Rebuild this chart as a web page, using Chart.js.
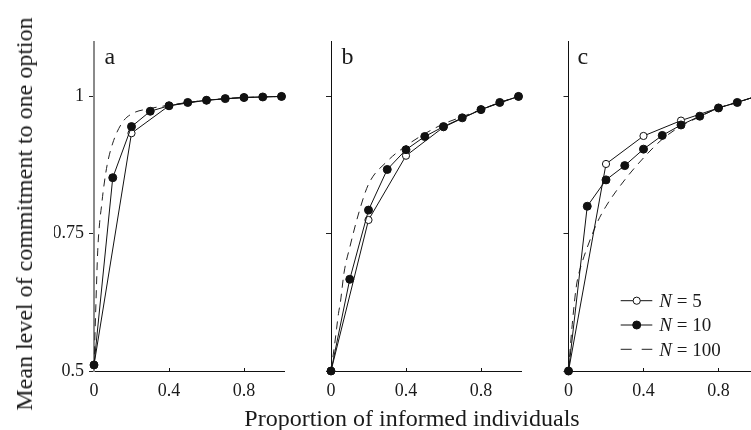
<!DOCTYPE html>
<html>
<head>
<meta charset="utf-8">
<script src="https://cdn.jsdelivr.net/npm/chart.js@4.4.1/dist/chart.umd.min.js"></script>
<style>
  html, body { margin: 0; padding: 0; background: #ffffff; }
  #wrap { position: relative; width: 751px; height: 430px; overflow: hidden; background: #ffffff; }
  #wrap canvas { position: absolute; left: 0; top: 0; }
  .title { position: absolute; font-family: 'Liberation Serif', 'DejaVu Serif', serif; font-size: 24px; line-height: 24px; color: #1a1a1a; white-space: nowrap; }
  #xtitle { left: 412px; top: 418px; transform: translate(-50%, -50%); }
  #ytitle { left: 24px; top: 214px; transform: translate(-50%, -50%) rotate(-90deg); }
</style>
</head>
<body>
<div id="wrap">
  <canvas id="pa" width="780" height="430"></canvas>
  <canvas id="pb" width="780" height="430"></canvas>
  <canvas id="pc" width="780" height="430"></canvas>
  <div class="title" id="xtitle">Proportion of informed individuals</div>
  <div class="title" id="ytitle">Mean level of commitment to one option</div>
</div>
<script>
// ---------- data ----------
const xTickValues = [0, 0.4, 0.8];
const xTickLabels = ['0', '0.4', '0.8'];
const yTickValues = [0.5, 0.75, 1];
const yTickLabels = ['0.5', '0.75', '1'];
const panelLetters = ['a', 'b', 'c'];
const seriesNames = ['5', '10', '100'];

const xN5 = [0, 0.2, 0.4, 0.6, 0.8, 1.0];
const xN10 = [0, 0.1, 0.2, 0.3, 0.4, 0.5, 0.6, 0.7, 0.8, 0.9, 1.0];
const xN100 = [0, 0.01, 0.02, 0.03, 0.04, 0.05, 0.07, 0.1, 0.15, 0.2, 0.3, 0.4, 0.5, 0.6, 0.7, 0.8, 0.9, 1.0];

const aN5 = [0.511, 0.933, 0.983, 0.993, 0.998, 1.0];
const aN10 = [0.511, 0.852, 0.945, 0.973, 0.983, 0.989, 0.993, 0.996, 0.998, 0.999, 1.0];
const aN100 = [0.505, 0.62, 0.72, 0.77, 0.80, 0.83, 0.875, 0.915, 0.952, 0.968, 0.978, 0.984, 0.989, 0.993, 0.996, 0.998, 0.999, 1.0];

const bN5 = [0.5, 0.775, 0.892, 0.944, 0.976, 1.0];
const bN10 = [0.5, 0.667, 0.793, 0.867, 0.903, 0.927, 0.945, 0.961, 0.976, 0.989, 1.0];
const bN100 = [0.5, 0.525, 0.55, 0.578, 0.605, 0.625, 0.68, 0.725, 0.79, 0.84, 0.882, 0.91, 0.932, 0.95, 0.963, 0.976, 0.989, 1.0];

const cN5 = [0.5, 0.877, 0.928, 0.956, 0.979, 1.0];
const cN10 = [0.5, 0.80, 0.848, 0.874, 0.904, 0.929, 0.948, 0.964, 0.979, 0.989, 1.0];
const cN100 = [0.5, 0.545, 0.585, 0.62, 0.65, 0.67, 0.695, 0.725, 0.768, 0.80, 0.848, 0.888, 0.922, 0.946, 0.963, 0.979, 0.989, 1.0];

// ---------- helpers ----------
const SERIF = "'Liberation Serif', 'DejaVu Serif', serif";
const INK = '#1a1a1a';
function pts(xs, ys) { return xs.map((x, i) => ({ x: x, y: ys[i] })); }

const panelLetterPlugin = {
  id: 'panelLetter',
  afterDraw(chart, args, opts) {
    const ctx = chart.ctx, ca = chart.chartArea;
    ctx.save();
    ctx.font = '24px ' + SERIF;
    ctx.fillStyle = INK;
    ctx.textBaseline = 'alphabetic';
    ctx.textAlign = 'left';
    ctx.fillText(opts.text, ca.left + opts.dx, ca.top + opts.dy);
    ctx.restore();
  }
};

const legendPlugin = {
  id: 'nLegend',
  afterDraw(chart, args, opts) {
    if (!opts.show) return;
    const ctx = chart.ctx, ca = chart.chartArea;
    const rows = [0, 1, 2];
    rows.forEach((di, r) => {
      const ds = chart.data.datasets[di];
      const yc = ca.bottom + opts.rowOffsets[r];
      const x1 = ca.left + opts.lineStart, x2 = ca.left + opts.lineEnd;
      ctx.save();
      ctx.strokeStyle = ds.borderColor;
      ctx.lineWidth = 1;
      ctx.setLineDash(ds.borderDash && ds.borderDash.length ? opts.legendDash : []);
      ctx.beginPath();
      ctx.moveTo(x1, yc);
      ctx.lineTo(x2, yc);
      ctx.stroke();
      ctx.setLineDash([]);
      if (ds.pointRadius > 0) {
        ctx.beginPath();
        ctx.arc(ca.left + opts.marker, yc, ds.pointRadius, 0, Math.PI * 2);
        ctx.fillStyle = ds.pointBackgroundColor;
        ctx.fill();
        ctx.strokeStyle = ds.pointBorderColor;
        ctx.lineWidth = ds.pointBorderWidth;
        ctx.stroke();
      }
      const tx = ca.left + opts.textStart, ty = yc + 6.4;
      ctx.fillStyle = INK;
      ctx.textBaseline = 'alphabetic';
      ctx.textAlign = 'left';
      ctx.font = 'italic 19px ' + SERIF;
      ctx.fillText('N', tx, ty);
      const w = ctx.measureText('N').width;
      ctx.font = '19px ' + SERIF;
      ctx.fillText(' = ' + seriesNames[r], tx + w, ty);
      ctx.restore();
    });
  }
};

function makePanel(id, idx, n5, n10, n100) {
  const x0 = [94, 331, 568.5][idx];
  const unit = 187.5;
  const xMax = 1.015;
  const W = 780, H = 430;
  const yW = 40, xH = 40;
  const top = 41.5, bottom = 371;
  const right = x0 + xMax * unit;
  const isA = idx === 0;
  return new Chart(document.getElementById(id), {
    type: 'line',
    data: {
      datasets: [
        {
          label: 'N = 5', data: pts(xN5, n5), order: 1,
          borderColor: '#111', borderWidth: 1, tension: 0,
          pointRadius: 3.6, pointBackgroundColor: '#ffffff', pointBorderColor: '#111', pointBorderWidth: 1,
          clip: false
        },
        {
          label: 'N = 10', data: pts(xN10, n10), order: 0,
          borderColor: '#111', borderWidth: 1, tension: 0,
          pointRadius: 4, pointBackgroundColor: '#111', pointBorderColor: '#111', pointBorderWidth: 1,
          clip: false
        },
        {
          label: 'N = 100', data: pts(xN100, n100), order: 2,
          borderColor: '#222', borderWidth: 1, borderDash: [8, 6],
          cubicInterpolationMode: 'monotone',
          pointRadius: 0, clip: false
        }
      ]
    },
    options: {
      responsive: false,
      animation: false,
      devicePixelRatio: 1,
      events: [],
      layout: { padding: { left: x0 - yW, right: W - right, top: top, bottom: H - bottom - xH } },
      plugins: {
        legend: { display: false },
        tooltip: { enabled: false },
        panelLetter: { text: panelLetters[idx], dx: idx === 2 ? 9 : 10.5, dy: 22 },
        nLegend: { show: idx === 2, rowOffsets: [-70.3, -46, -21.7], lineStart: 52.2, lineEnd: 83.8, marker: 68.2, textStart: 90.8, legendDash: [11, 10] }
      },
      scales: {
        x: {
          type: 'linear', min: 0, max: xMax,
          afterBuildTicks: s => { s.ticks = xTickValues.map(v => ({ value: v })); },
          afterFit: s => { s.height = xH; },
          ticks: {
            callback: (v, i) => xTickLabels[i],
            font: { family: SERIF, size: 18 }, color: INK, padding: 12, maxRotation: 0, autoSkip: false
          },
          grid: { display: true, drawOnChartArea: false, drawTicks: true, tickLength: -3, color: '#111', lineWidth: 1 },
          border: { display: true, color: '#111', width: 1 }
        },
        y: {
          type: 'linear', min: 0.5, max: 1.1,
          afterBuildTicks: s => { s.ticks = yTickValues.map(v => ({ value: v })); },
          afterFit: s => { s.width = yW; },
          ticks: {
            display: isA,
            callback: (v, i) => yTickLabels[i],
            font: { family: SERIF, size: 18 }, color: INK, padding: 5, autoSkip: false
          },
          grid: { display: true, drawOnChartArea: false, drawTicks: true, tickLength: 5, color: '#222', lineWidth: 1 },
          border: { display: true, color: isA ? '#8a8a8a' : '#111', width: isA ? 2 : 1 }
        }
      }
    },
    plugins: [panelLetterPlugin, legendPlugin]
  });
}

makePanel('pa', 0, aN5, aN10, aN100);
makePanel('pb', 1, bN5, bN10, bN100);
makePanel('pc', 2, cN5, cN10, cN100);
</script>
</body>
</html>
